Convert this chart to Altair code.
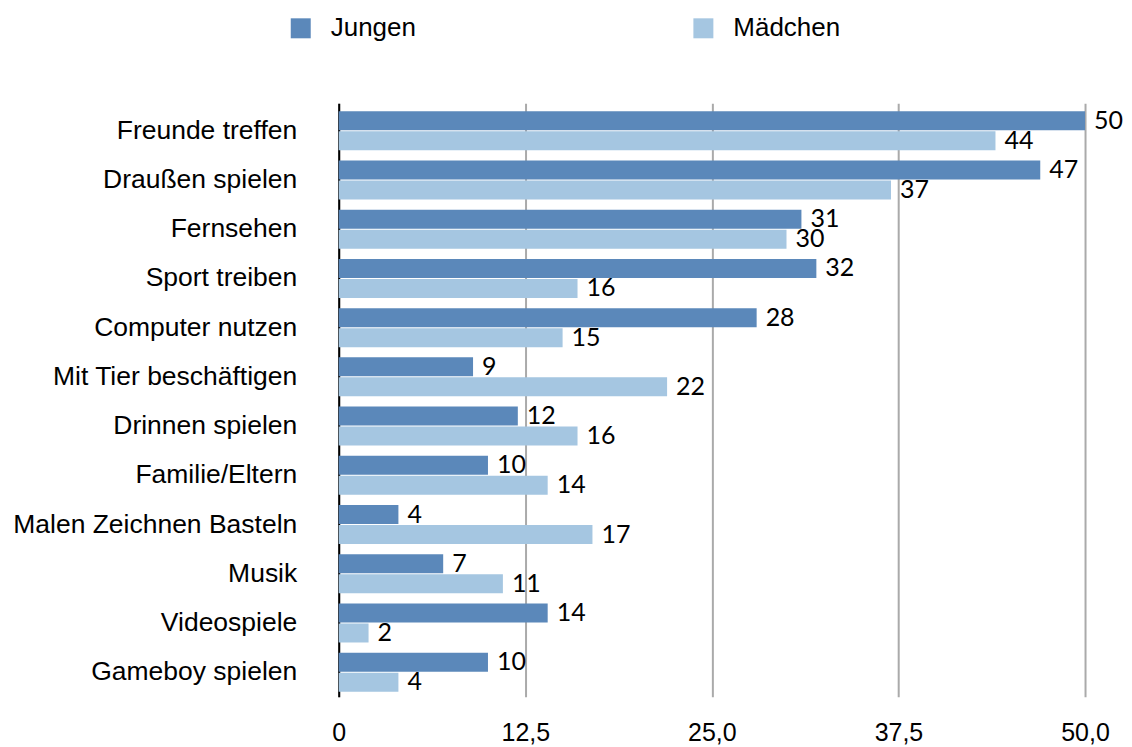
import altair as alt
import pandas as pd

categories = ["Freunde treffen", "Draußen spielen", "Fernsehen", "Sport treiben",
              "Computer nutzen", "Mit Tier beschäftigen", "Drinnen spielen",
              "Familie/Eltern", "Malen Zeichnen Basteln", "Musik", "Videospiele",
              "Gameboy spielen"]
jungen = [50, 47, 31, 32, 28, 9, 12, 10, 4, 7, 14, 10]
maedchen = [44, 37, 30, 16, 15, 22, 16, 14, 17, 11, 2, 4]
series = ["Jungen", "Mädchen"]
colors = ["#5b88ba", "#a5c6e1"]
tick_values = [0, 12.5, 25, 37.5, 50]

rows = []
for c, j, m in zip(categories, jungen, maedchen):
    rows.append({"Kategorie": c, "Gruppe": series[0], "Wert": j})
    rows.append({"Kategorie": c, "Gruppe": series[1], "Wert": m})
df = pd.DataFrame(rows)

FONT = "Liberation Sans, Arial, Helvetica"
LABEL_FONT = "Lato"

y_enc = alt.Y("Kategorie:N", sort=categories, title=None,
              scale=alt.Scale(paddingInner=0.208, paddingOuter=0.132, align=0.615),
              axis=alt.Axis(ticks=False, labelPadding=42, labelFont=FONT,
                            labelFontSize=26.5, labelColor="#000000",
                            domainColor="#000000", domainWidth=2,
                            labelLimit=400, grid=False))
x_enc = alt.X("Wert:Q", title=None,
              scale=alt.Scale(domain=[0, 50], nice=False),
              axis=alt.Axis(values=tick_values, ticks=False, domain=False,
                            grid=True, gridColor="#aaaaaa", gridWidth=2,
                            labelFont=FONT, labelFontSize=25, labelColor="#000000",
                            labelPadding=24, labelFlush=False,
                            labelExpr="datum.value == 0 ? '0' : replace(format(datum.value, '.1f'), '.', ',')"))
yoff = alt.YOffset("Gruppe:N", sort=series,
                   scale=alt.Scale(paddingInner=0.05, paddingOuter=0))

bars = alt.Chart(df).mark_bar().encode(
    x=x_enc,
    y=y_enc,
    yOffset=yoff,
    color=alt.Color("Gruppe:N", sort=series,
                    scale=alt.Scale(domain=series, range=colors),
                    legend=alt.Legend(title=None, orient="none", direction="horizontal",
                                      columns=2, legendX=-51, legendY=-88,
                                      symbolType="square", symbolSize=400,
                                      symbolStrokeWidth=0, labelOffset=17,
                                      columnPadding=274, labelFont=FONT,
                                      labelFontSize=26, labelColor="#000000")),
)

labels = alt.Chart(df).mark_text(align="left", baseline="middle", dx=9,
                                 font=LABEL_FONT, fontSize=25, color="#000000").encode(
    x="Wert:Q",
    y=alt.Y("Kategorie:N", sort=categories),
    yOffset=alt.YOffset("Gruppe:N", sort=series),
    text="Wert:Q",
)

chart = alt.layer(bars, labels).properties(
    width=747, height=594,
    padding={"left": 4, "top": 7, "right": 0, "bottom": 0},
).configure_view(stroke=None)

chart.save("out.html", embed_options={"renderer": "svg", "actions": False})
